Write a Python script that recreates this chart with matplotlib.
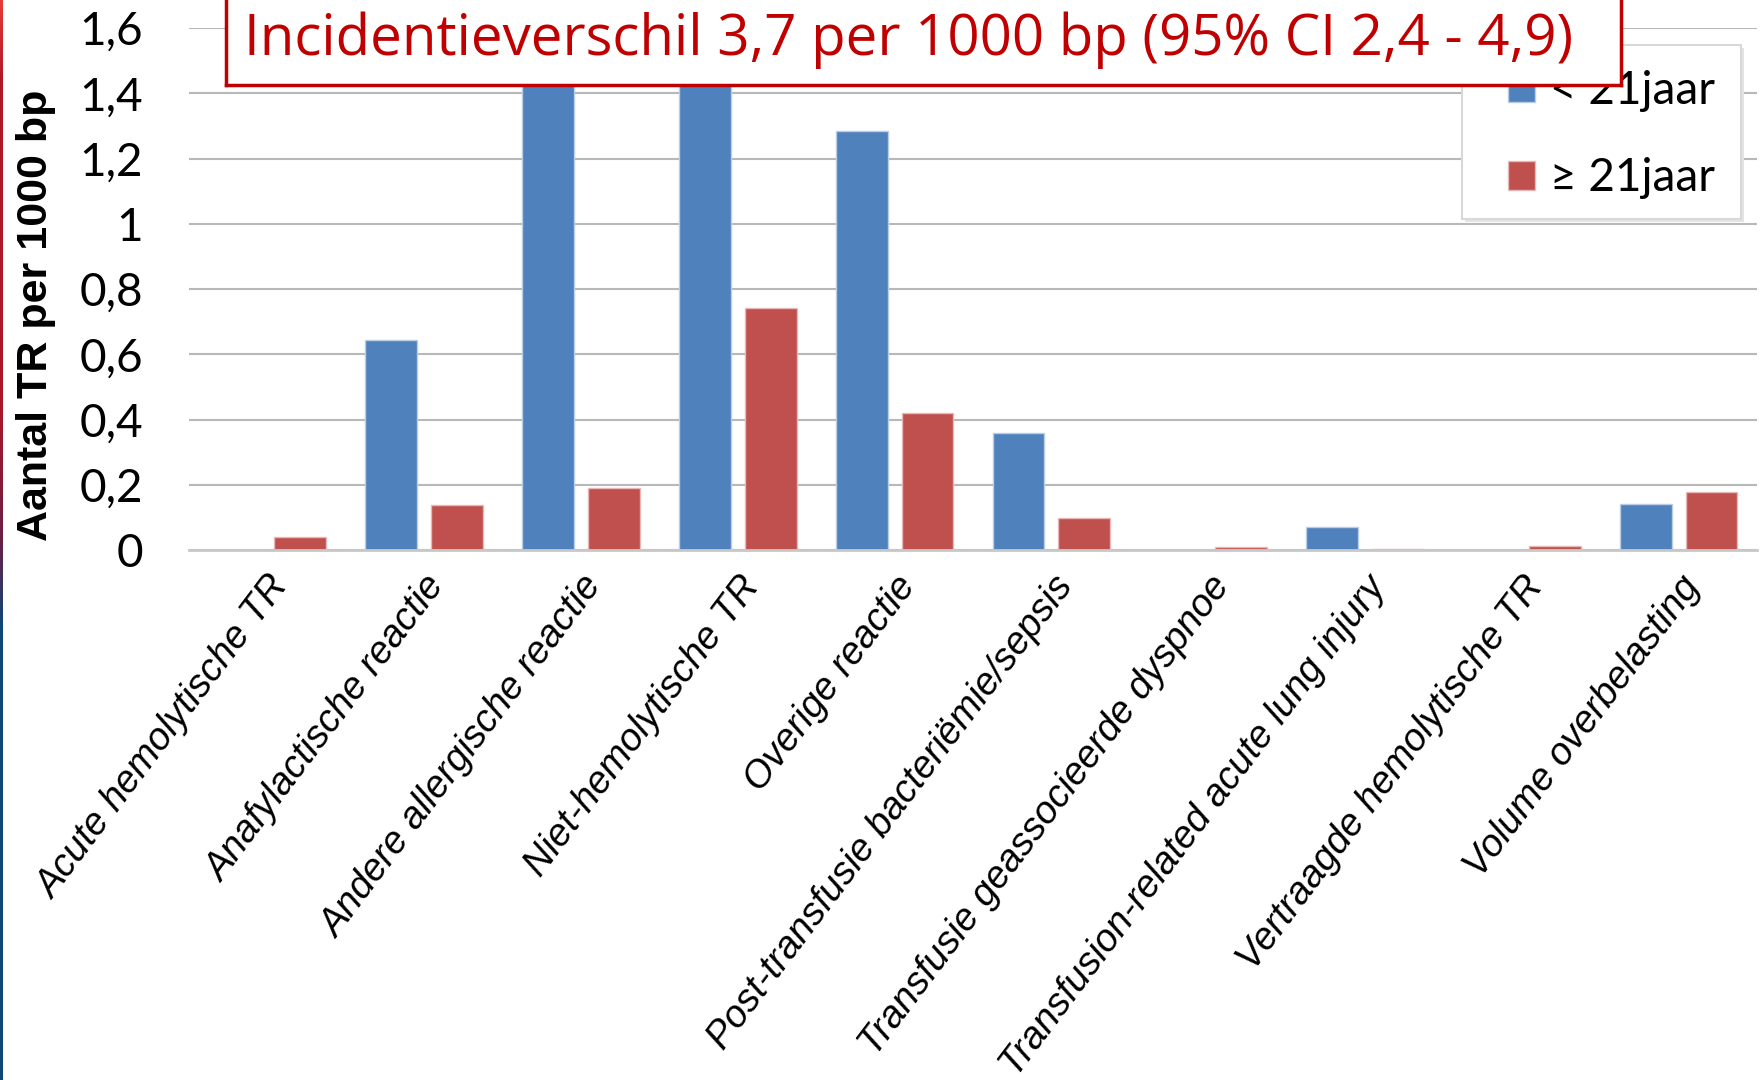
import numpy as np
import matplotlib
matplotlib.use("Agg")
import matplotlib.pyplot as plt
from matplotlib.colors import LinearSegmentedColormap
from matplotlib.patches import Rectangle

categories = ["Acute hemolytische TR", "Anafylactische reactie", "Andere allergische reactie",
              "Niet-hemolytische TR", "Overige reactie", "Post-transfusie bacteriëmie/sepsis",
              "Transfusie geassocieerde dyspnoe", "Transfusion-related acute lung injury",
              "Vertraagde hemolytische TR", "Volume overbelasting"]
young = [0.0, 0.645, 2.2, 1.9, 1.286, 0.359, 0.0, 0.072, 0.0, 0.141]
old = [0.041, 0.138, 0.19, 0.741, 0.42, 0.097, 0.008, 0.003, 0.013, 0.179]
series_names = ["< 21jaar", "≥ 21jaar"]
yticks = [0, 0.2, 0.4, 0.6, 0.8, 1.0, 1.2, 1.4, 1.6]
ytick_labels = ["0", "0,2", "0,4", "0,6", "0,8", "1", "1,2", "1,4", "1,6"]
title = "Incidentieverschil 3,7 per 1000 bp (95% CI 2,4 - 4,9)"

blue = "#4F81BD"
red = "#C0504D"

fig = plt.figure(figsize=(17.63, 10.8), dpi=100)
ax = fig.add_axes([0.1072, 0.4907, 0.8894, 0.4833])

x = np.arange(len(categories))
w = 0.33
ax.bar(x - 0.21, young, w, color=blue, edgecolor="#B9CDE5", linewidth=1.0, label=series_names[0], zorder=3)
ax.bar(x + 0.21, old, w, color=red, edgecolor="#E6B9B8", linewidth=1.0, label=series_names[1], zorder=3)

ax.set_xlim(-0.5, len(categories) - 0.5)
ax.set_ylim(0, 1.6)
ax.set_yticks(yticks)
ax.set_yticklabels(ytick_labels, fontsize=33, family="Lato")
ax.set_xticks(x)
ax.set_xticklabels(categories, rotation=53, ha="right", rotation_mode="anchor",
                   fontsize=27.5, family="Liberation Sans", style="italic")
ax.tick_params(length=0)
ax.tick_params(axis="y", pad=33)
ax.tick_params(axis="x", pad=14)
ax.grid(axis="y", color="#B8B8B8", linewidth=1.5, zorder=0)
for s in ["top", "right", "left"]:
    ax.spines[s].set_visible(False)
ax.spines["bottom"].set_color("#C8C8C8")
ax.spines["bottom"].set_linewidth(2)
ax.spines["bottom"].set_zorder(4)

ax.set_ylabel("Aantal TR per 1000 bp", fontsize=31, fontweight="bold",
              family="Liberation Sans")
ax.yaxis.set_label_coords(-0.085, 0.45)

# legend frame with a soft shadow, drawn by hand
shadow = Rectangle((0.8139, 0.628), 0.1779, 0.3334, transform=ax.transAxes,
                   facecolor="#E4E4E4", edgecolor="none", zorder=5, clip_on=False)
frame = Rectangle((0.8119, 0.634), 0.1779, 0.3334, transform=ax.transAxes,
                  facecolor="white", edgecolor="#D8D8D8", linewidth=1.5, zorder=5.1, clip_on=False)
ax.add_patch(shadow)
ax.add_patch(frame)
leg = ax.legend(loc="center left", bbox_to_anchor=(0.8412, 0.7962), borderaxespad=0,
                prop={"family": "Lato", "size": 33}, frameon=False,
                handlelength=0.59, handleheight=0.59,
                labelspacing=1.0, borderpad=0, handletextpad=0.32)
leg.set_zorder(6)

# title box over the top of the plot
tb = fig.add_axes([226 / 1763, 1 - 85 / 1080, (1621 - 226) / 1763, 90 / 1080])
tb.set_xticks([])
tb.set_yticks([])
for s in tb.spines.values():
    s.set_color("#C00000")
    s.set_linewidth(2.5)
tb.set_zorder(10)
tb.text(0.4895, 0.5, title, color="#C00000", fontsize=40.6, family="Open Sans",
        ha="center", va="center", transform=tb.transAxes)

# slide edge strip
strip = fig.add_axes([0, 0, 3 / 1763, 1])
cmap = LinearSegmentedColormap.from_list("edge", [(0, "#0E4677"), (0.42, "#0E4677"),
                                                  (0.5, "#6A1F45"), (0.62, "#A8182A"),
                                                  (0.93, "#B01828"), (1, "#E63A36")])
strip.imshow(np.linspace(0, 1, 256).reshape(-1, 1), aspect="auto", cmap=cmap, origin="lower")
strip.axis("off")

fig.savefig("out.png", dpi=100)
